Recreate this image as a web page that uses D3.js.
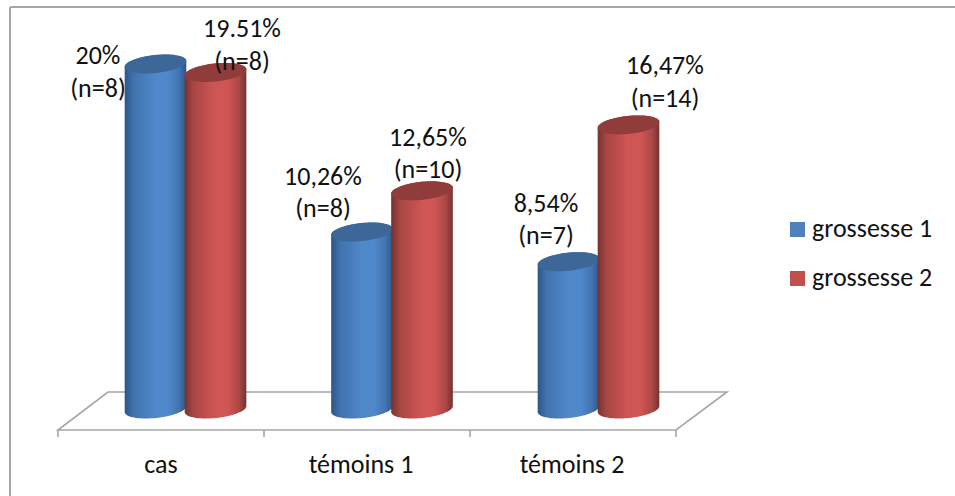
<!DOCTYPE html>
<html><head><meta charset="utf-8">
<script src="https://cdn.jsdelivr.net/npm/d3@7/dist/d3.min.js"></script>
<style>html,body{margin:0;padding:0;background:#fff}svg{display:block}text{font-family:Carlito,Lato,"Open Sans",sans-serif;fill:#111}</style>
</head><body><svg id="c" width="955" height="496"></svg>
<script>
const categories=["cas","témoins 1","témoins 2"];
const seriesNames=["grossesse 1","grossesse 2"];
const values1=[20,10.26,8.54];
const values2=[19.51,12.65,16.47];
const labels1=[["20%","(n=8)"],["10,26%","(n=8)"],["8,54%","(n=7)"]];
const labels2=[["19.51%","(n=8)"],["12,65%","(n=10)"],["16,47%","(n=14)"]];
const labelPos1=[[98,64,97],[323,185,217],[546,212,244]];
const labelPos2=[[242,37,70],[428,146,178],[665,74,107]];
const catLabelShift=[0,-6,-1];
const palette=[["#2c5687","#5088cc","#2c5687","#3d6796"],["#763230","#cf5654","#763230","#8f3c3a"]];
const legendColors=["#4f81bd","#c0504d"];

const svg=d3.select("#c");
const font=26;
const frame=svg.append("g").attr("stroke","#a6a6a6").attr("stroke-width",2);
frame.append("line").attr("x1",10).attr("x2",955).attr("y1",7).attr("y2",7);
frame.append("line").attr("x1",10).attr("x2",10).attr("y1",7).attr("y2",496);

const x=d3.scaleBand().domain(categories).range([58,676]);
const sub=d3.scaleBand().domain([0,1]).range([0,120]);
const y=d3.scaleLinear().domain([0,20]).range([409,64]);
const catCenter=c=>x(c)+x.bandwidth()/2;

const defs=svg.append("defs");
palette.forEach((p,i)=>{
  const g=defs.append("linearGradient").attr("id","g"+i);
  [[0,p[0]],[.14,d3.interpolateRgb(p[0],p[1])(.55)],[.5,p[1]],[.7,p[1]],[.88,d3.interpolateRgb(p[0],p[1])(.6)],[1,p[2]]].forEach(s=>g.append("stop").attr("offset",s[0]).attr("stop-color",s[1]));
});

const floor=svg.append("g").attr("fill","none").attr("stroke","#a6a6a6").attr("stroke-width",1.6);
floor.append("path").attr("d",d3.line()([[x.range()[0],430],[108,392],[727,392],[x.range()[1],430]])+"Z");
[...categories.map(c=>x(c)),x.range()[1]].forEach(t=>floor.append("line").attr("x1",t).attr("x2",t).attr("y1",430).attr("y2",437));

const rx=31, ry=9, tilt=-6*Math.PI/180;
const ell=(cx,cy,t)=>[cx+rx*Math.cos(t)*Math.cos(tilt)-ry*Math.sin(t)*Math.sin(tilt),cy+rx*Math.cos(t)*Math.sin(tilt)+ry*Math.sin(t)*Math.cos(tilt)];
const arc=(cx,cy,a,b)=>d3.range(0,41).map(n=>ell(cx,cy,a+(b-a)*n/40));
const line=d3.line();
function cyl(cx,topY,baseY,i){
  const g=svg.append("g");
  const pts=[...arc(cx,baseY,Math.PI,0),...arc(cx,topY,0,-Math.PI)];
  g.append("path").attr("d",line(pts)+"Z").attr("fill",`url(#g${i})`);
  g.append("path").attr("d",line(arc(cx,topY,0,2*Math.PI))+"Z").attr("fill",palette[i][3]);
}
function lbl(cx,lines,ys){
  lines.forEach((t,k)=>svg.append("text").attr("x",cx).attr("y",ys[k]).attr("text-anchor","middle").attr("font-size",font).text(t));
}
categories.forEach((c,k)=>{
  const left=catCenter(c)-35.5+k*0.5;
  cyl(left+sub(0)+sub.bandwidth()/2,y(values1[k]),y(0),0);
  cyl(left+sub(1)+sub.bandwidth()/2,y(values2[k]),y(0),1);
});
categories.forEach((c,k)=>{
  lbl(labelPos1[k][0],labels1[k],labelPos1[k].slice(1));
  lbl(labelPos2[k][0],labels2[k],labelPos2[k].slice(1));
  svg.append("text").attr("x",catCenter(c)+catLabelShift[k]).attr("y",473).attr("text-anchor","middle").attr("font-size",font).text(c);
});
seriesNames.forEach((n,i)=>{
  const yy=222+i*49;
  svg.append("rect").attr("x",790).attr("y",yy).attr("width",15).attr("height",15).attr("fill",legendColors[i]);
  svg.append("text").attr("x",812).attr("y",yy+15).attr("font-size",font).text(n);
});
</script></body></html>
